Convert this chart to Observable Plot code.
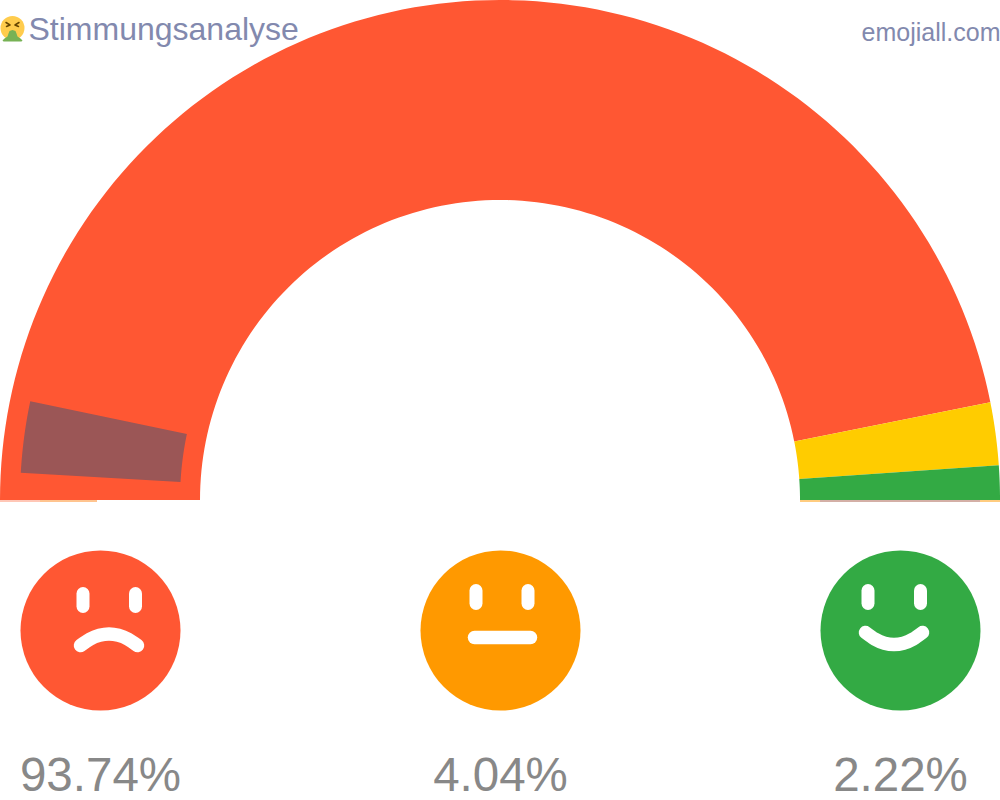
<!DOCTYPE html>
<html>
<head>
<meta charset="utf-8">
<script src="https://cdn.jsdelivr.net/npm/d3@7"></script>
<script src="https://cdn.jsdelivr.net/npm/@observablehq/plot@0.6"></script>
<style>html,body{margin:0;padding:0;background:#fff}svg{display:block}</style>
</head>
<body>
<div id="chart"></div>
<script>
const sentiments = ["negative", "neutral", "positive"];
const shares = [93.74, 4.04, 2.22];
const shareLabels = ["93.74%", "4.04%", "2.22%"];
const gaugeColors = ["#FF5733", "#FFCC00", "#33AA44"];
const faceColors = ["#FF5733", "#FF9900", "#33AA44"];
const faceCentersX = [100, 500, 900];
const title = "Stimmungsanalyse";
const source = "emojiall.com";
const markerRange = [1.8, 6.6];

const CX = 500, CY = 500, OUTER = 500, INNER = 300, FACE_Y = 630;
const polar = (share, r) => {
  const a = Math.PI * share / 100;
  return [CX - r * Math.cos(a), CY - r * Math.sin(a)];
};
function sector(from, to, r0, r1, key) {
  return d3.range(0, 121).map(i => {
    const s = from + (to - from) * i / 120;
    const [x1, y1] = polar(s, r1), [x2, y2] = polar(s, r0);
    return {x1, y1, x2, y2, key};
  });
}
let acc = 0;
const gauge = shares.flatMap((v, i) => {
  const pts = sector(acc, acc + v, INNER, OUTER, sentiments[i]);
  acc += v;
  return pts;
});
const marker = sector(markerRange[0], markerRange[1], 320, 480, "marker");

// thin coloured rim on the gauge's baseline
const rimStart = [0, 40, 800, 820, 980];
const rimEnd = [40, 97, 820, 980, 1000];
const rimColor = ["#FF8F6F", "#FF8A20", "#FF9900", "#A8604F", "#FF9900"];
const rim = rimStart.map((x1, i) => ({x1, x2: rimEnd[i], color: rimColor[i]}));

// face features
const eyes = [
  {face: 0, dx: -17.5, y1: 593, y2: 606},
  {face: 0, dx: 35, y1: 593, y2: 606},
  {face: 1, dx: -24.5, y1: 590, y2: 603},
  {face: 1, dx: 27.5, y1: 590, y2: 603},
  {face: 2, dx: -32.5, y1: 590, y2: 603},
  {face: 2, dx: 20, y1: 590, y2: 603}
].map(d => [
  {x: faceCentersX[d.face] + d.dx, y: d.y1, id: d.face + "e" + d.dx},
  {x: faceCentersX[d.face] + d.dx, y: d.y2, id: d.face + "e" + d.dx}
]).flat();
const mouthX = {
  0: [-20, -10.5, -1, 8.5, 18, 27.5, 37],
  1: [-26, 30],
  2: [-35, -25.5, -16, -6.5, 3, 12.5, 22]
};
const mouthY = {
  0: [645, 638.6, 634.8, 633.5, 634.8, 638.6, 645],
  1: [637, 637],
  2: [632, 638.7, 642.7, 644, 642.7, 638.7, 632]
};
const mouths = [0, 1, 2].flatMap(f =>
  mouthX[f].map((dx, i) => ({x: faceCentersX[f] + dx, y: mouthY[f][i], id: "m" + f}))
);

// the small vomiting-face icon beside the title
const iconFace = [{x: 12, y: 27.5}];
const iconSpew = [[8, 33], [9, 30.5], [12, 29.5], [15, 30.5], [16, 33], [17, 36], [20, 38], [22, 40], [21, 41], [3, 41], [2, 40], [4, 38], [7, 36]];
const iconEyes = [
  [[5.5, 22], [9.5, 24.5], [6, 26]],
  [[18.5, 22], [14.5, 24.5], [18, 26]]
].flatMap((l, i) => l.map(([x, y]) => ({x, y, i})));

const chart = Plot.plot({
  width: 1000, height: 800,
  margin: 0,
  x: {domain: [0, 1000], range: [0, 1000], axis: null},
  y: {domain: [0, 800], range: [0, 800], axis: null},
  style: {background: "#fff", fontFamily: "'Liberation Sans', Arial, sans-serif"},
  marks: [
    ...sentiments.map((s, i) => Plot.area(gauge.filter(d => d.key === s), {
      x1: "x1", y1: "y1", x2: "x2", y2: "y2", fill: gaugeColors[i], curve: "linear"
    })),
    Plot.ruleY(rim, {y: () => 500.5, x1: "x1", x2: "x2", stroke: d => d.color, strokeWidth: 1}),
    Plot.area(marker, {x1: "x1", y1: "y1", x2: "x2", y2: "y2", fill: "#9B5656", curve: "linear"}),
    Plot.dot(faceCentersX, {x: d => d, y: () => FACE_Y, r: 80, fill: (d, i) => faceColors[i], stroke: null}),
    Plot.line(eyes, {x: "x", y: "y", z: "id", stroke: "#fff", strokeWidth: 13, strokeLinecap: "round"}),
    Plot.line(mouths, {x: "x", y: "y", z: "id", stroke: "#fff", strokeWidth: 13.5, strokeLinecap: "round", curve: "natural"}),
    Plot.text(shareLabels, {
      x: (d, i) => faceCentersX[i], y: () => 790, text: d => d,
      fontSize: 47.5, fill: "#888", textAnchor: "middle", lineAnchor: "bottom"
    }),
    Plot.text([title], {x: () => 28, y: () => 39.5, text: d => d, fontSize: 32, fill: "#8289AE", textAnchor: "start", lineAnchor: "bottom"}),
    Plot.text([source], {x: () => 1000, y: () => 40, text: d => d, fontSize: 25, fill: "#8289AE", textAnchor: "end", lineAnchor: "bottom"}),
    Plot.dot(iconFace, {x: "x", y: "y", r: 12, fill: "#FFCC4D", stroke: null}),
    Plot.line(iconSpew, {x: d => d[0], y: d => d[1], fill: "#77B255", stroke: null, curve: "linear"}),
    Plot.line(iconEyes, {x: "x", y: "y", z: "i", stroke: "#664500", strokeWidth: 1.5, fill: "none"})
  ]
});
document.getElementById("chart").appendChild(chart);
</script>
</body>
</html>
